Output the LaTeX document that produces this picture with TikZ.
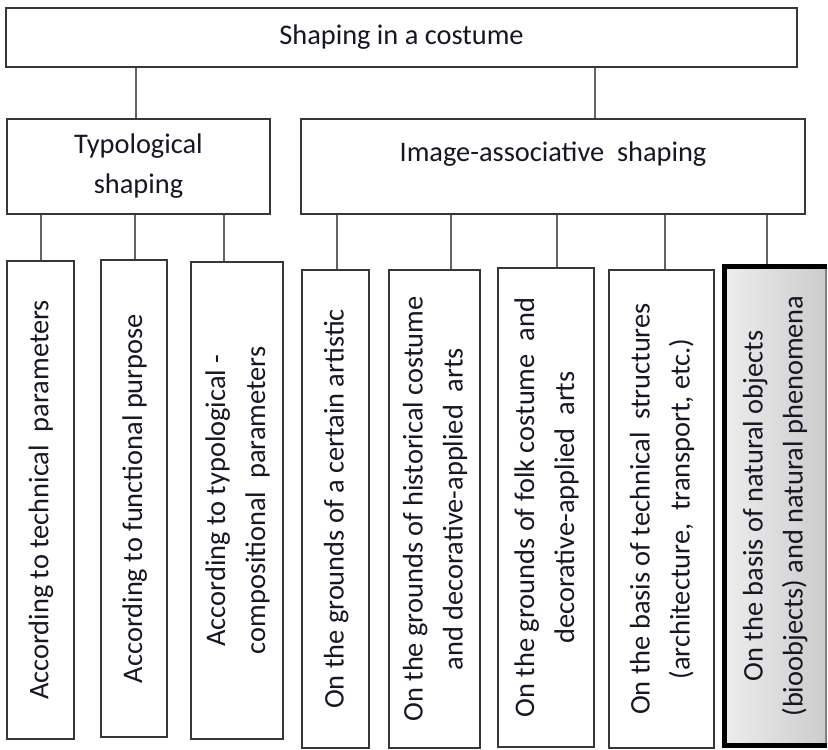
\documentclass[tikz,border=0pt]{standalone}
\usepackage{fontspec}
\setmainfont{Carlito}
\usepackage{graphicx}
\definecolor{ink}{RGB}{22,22,36}
\definecolor{boxline}{RGB}{55,55,55}
\definecolor{linkgray}{RGB}{100,100,100}

% box given by its left, top, right and bottom edges (in px units)
\newcommand\mkbox[6][]{%
  \pgfmathsetmacro\bx{(#3+#5)/2}\pgfmathsetmacro\by{(#4+#6)/2}%
  \pgfmathsetmacro\bw{(#5-#3)*0.5}\pgfmathsetmacro\bh{(#6-#4)*0.5}%
  \node[box,#1,minimum width=\bw pt,minimum height=\bh pt] (#2) at (\bx,\by)}
% vertical (bottom-to-top) text lines
\newcommand\vtext[1]{\rotatebox{90}{\begin{tabular}{@{}c@{}}#1\end{tabular}}}

\begin{document}
\begin{tikzpicture}[x=0.5pt,y=-0.5pt,
  box/.style={draw=boxline, line width=0.75pt, fill=white, inner sep=0pt,
              align=center, text=ink},
  keybox/.style={draw=gray, left color=gray!14, right color=gray!40},
  keyframe/.style={draw=black, line width=2.5pt},
  link/.style={draw=linkgray, line width=0.75pt},
  every node/.append style={font=\fontsize{14.2}{20}\selectfont}]
\useasboundingbox (0,0) rectangle (828,749);

% top level
\mkbox{top}{6}{8}{797}{67} {Shaping in a costume};

% second level
\mkbox{typ}{7}{119}{270}{214} {Typological\\shaping};
\mkbox{img}{301}{119}{805}{214} {};
\node[text=ink, inner sep=0pt] (imgtext) at (553,154) {Image-associative\ \ shaping};

% third level, typological branch
\mkbox{b1}{7}{261}{74}{739} {\vtext{According to technical\ \ parameters}};
\mkbox{b2}{101}{260}{167}{737} {\vtext{According to functional purpose}};
\mkbox{b3}{191}{262}{283}{739} {\vtext{According to typological -\\compositional\ \ parameters}};

% third level, image-associative branch
\mkbox{b4}{302}{270}{369}{748} {\vtext{On the grounds of a certain artistic}};
\mkbox{b5}{389}{270}{480}{748} {\vtext{On the grounds of historical costume\\and decorative-applied\ \ arts}};
\mkbox{b6}{498}{268}{594}{747} {\vtext{On the grounds of folk costume\ \ and\\decorative-applied\ \ arts}};
\mkbox{b7}{609}{270}{714}{748} {\vtext{On the basis of technical\ \ structures\\(architecture,\ \ transport, etc.)}};
\mkbox[keybox]{b8}{723}{265}{826}{747} {\vtext{On the basis of natural objects\\(bioobjects) and natural phenomena}};
% heavy frame on the highlighted box (top, left, bottom)
\draw[keyframe] ([yshift=-1.25pt]b8.north east) -- ([xshift=1.25pt,yshift=-1.25pt]b8.north west)
  -- ([xshift=1.25pt,yshift=1.25pt]b8.south west) -- ([yshift=1.25pt]b8.south east);

% connectors
\draw[link] (top.south -| 136,0) -- (typ.north -| 136,0);
\draw[link] (top.south -| 595,0) -- (img.north -| 595,0);

\draw[link] (typ.south -| 41,0) -- (b1.north -| 41,0);
\draw[link] (typ.south -| 135,0) -- (b2.north -| 135,0);
\draw[link] (typ.south -| 224,0) -- (b3.north -| 224,0);

\draw[link] (img.south -| 337,0) -- (b4.north -| 337,0);
\draw[link] (img.south -| 451,0) -- (b5.north -| 451,0);
\draw[link] (img.south -| 557,0) -- (b6.north -| 557,0);
\draw[link] (img.south -| 665,0) -- (b7.north -| 665,0);
\draw[link] (img.south -| 767,0) -- (b8.north -| 767,0);
\end{tikzpicture}
\end{document}
